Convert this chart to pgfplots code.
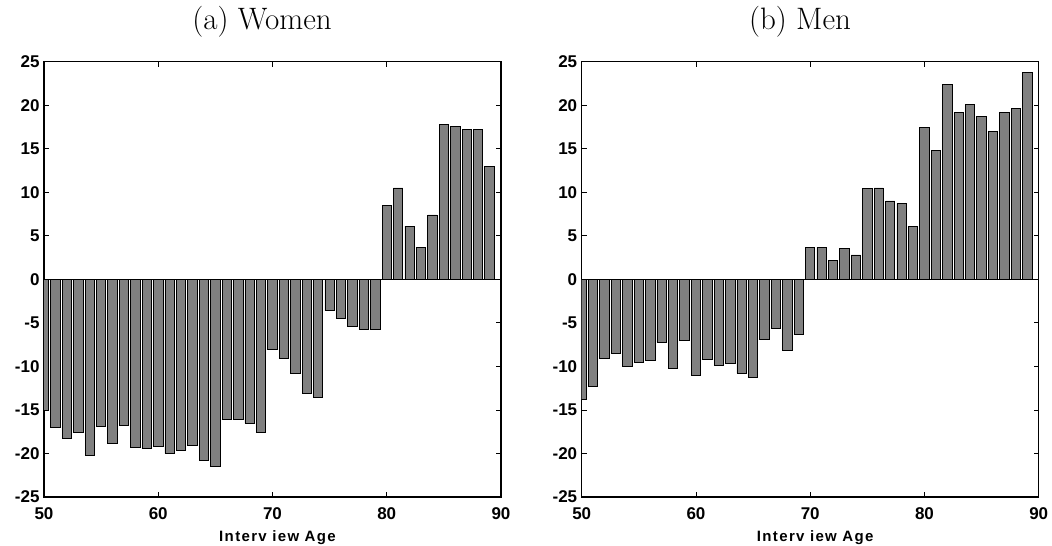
\documentclass[border=0pt]{standalone}
\usepackage{fontspec}
\usepackage{pgfplots}
\pgfplotsset{compat=1.18}
\newfontfamily\lsans{Liberation Sans}
\newfontfamily\lsanslab{Liberation Sans}[LetterSpace=9]
\begin{document}
\begin{tikzpicture}
\draw[use as bounding box, draw=none] (0pt,0pt) rectangle (1052pt,546pt);
\pgfplotsset{
  panel/.style={
    scale only axis, width=457pt, height=435.3pt,
    xmin=50, xmax=90, ymin=-25, ymax=25,
    xtick={50,60,...,90}, ytick={-25,-20,...,25},
    tick align=inside, major tick length=5pt,
    axis line style={line width=1.1pt},
    tick style={line width=0.8pt, black},
    /pgf/number format/assume math mode=true,
    tick label style={font=\fontsize{17}{17}\selectfont\lsans\bfseries},
    xticklabel style={yshift=-7pt},
    yticklabel style={xshift=-1pt},
    xlabel={Interv iew Age},
    xlabel style={font=\fontsize{15}{15}\selectfont\lsanslab\bfseries,
      at={(axis description cs:0.5,0)}, anchor=base, yshift=-45pt, xshift=5pt},
  },
  bars/.style={ybar, bar width=0.82, bar shift=0pt, fill=black!50, draw=black, line width=0.8pt},
}
\begin{axis}[panel, at={(44pt,49pt)}, anchor=south west]
\addplot[bars] coordinates {
(50,-15.1) (51,-17.0) (52,-18.3) (53,-17.6) (54,-20.2) (55,-16.9) (56,-18.9) (57,-16.8)
(58,-19.3) (59,-19.4) (60,-19.2) (61,-20.0) (62,-19.7) (63,-19.1) (64,-20.8) (65,-21.5)
(66,-16.1) (67,-16.1) (68,-16.5) (69,-17.6) (70,-8.0) (71,-9.1) (72,-10.8) (73,-13.1)
(74,-13.6) (75,-3.6) (76,-4.5) (77,-5.4) (78,-5.7) (79,-5.7) (80,8.5) (81,10.5)
(82,6.1) (83,3.7) (84,7.4) (85,17.8) (86,17.6) (87,17.2) (88,17.2) (89,13.0)
};
\addplot[black, line width=1pt, forget plot] coordinates {(50,0) (90,0)};
\end{axis}
\begin{axis}[panel, at={(581.7pt,49pt)}, anchor=south west]
\addplot[bars] coordinates {
(50,-13.8) (51,-12.3) (52,-9.1) (53,-8.5) (54,-10.0) (55,-9.5) (56,-9.3) (57,-7.2)
(58,-10.2) (59,-7.0) (60,-11.0) (61,-9.2) (62,-9.9) (63,-9.7) (64,-10.8) (65,-11.3)
(66,-6.9) (67,-5.6) (68,-8.2) (69,-6.3) (70,3.7) (71,3.7) (72,2.2) (73,3.6)
(74,2.8) (75,10.4) (76,10.5) (77,9.0) (78,8.7) (79,6.1) (80,17.4) (81,14.8)
(82,22.4) (83,19.2) (84,20.1) (85,18.7) (86,17.0) (87,19.2) (88,19.6) (89,23.8)
};
\addplot[black, line width=1pt, forget plot] coordinates {(50,0) (90,0)};
\end{axis}
\node[anchor=base, font=\fontsize{31}{31}\selectfont] at (262pt,516.5pt) {(a) Women};
\node[anchor=base, font=\fontsize{31}{31}\selectfont] at (800pt,516.5pt) {(b) Men};
\end{tikzpicture}
\end{document}
